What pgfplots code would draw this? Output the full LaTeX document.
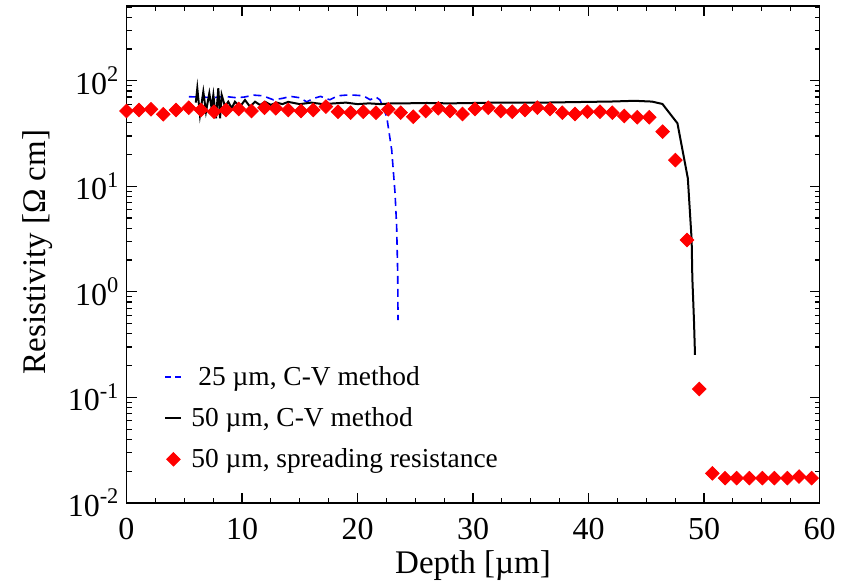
\documentclass[border=0pt]{standalone}
\usepackage{fontspec}
\setmainfont{Liberation Serif}
\usepackage{pgfplots}
\pgfplotsset{compat=1.18}
\pgfplotsset{shortline/.style={legend image code/.code={\draw[##1] (0pt,0pt) -- (8pt,0pt);}},
  shortdash/.style={legend image code/.code={\draw[##1, dash pattern=on 3pt off 2pt] (0pt,0pt) -- (8pt,0pt);}},
  shortmark/.style={legend image code/.code={\draw[##1] plot coordinates {(4pt,0pt)};}}}
\begin{document}
\begin{tikzpicture}
\begin{axis}[
  scale only axis, width=346.5pt, height=248.5pt,
  ymode=log, xmin=0, xmax=60, ymin=0.01, ymax=510,
  xtick={0,10,20,30,40,50,60}, xticklabels={0,10,20,30,40,50,60},
  minor x tick num=3,
  ytick={0.01,0.1,1,10,100},
  yticklabels={10\textsuperscript{-2},10\textsuperscript{-1},10\textsuperscript{0},10\textsuperscript{1},10\textsuperscript{2}},
  minor ytick={0.02,0.03,0.04,0.05,0.06,0.07,0.08,0.09,0.2,0.3,0.4,0.5,0.6,0.7,0.8,0.9,2,3,4,5,6,7,8,9,20,30,40,50,60,70,80,90,200,300,400,500},
  xtick pos=both, ytick pos=both, tick align=inside,
  major tick length=5pt, minor tick length=2.5pt,
  every tick/.style={black, line width=0.6pt},
  axis line style={line width=0.8pt},
  tick label style={font=\fontsize{16}{18}\selectfont},
  xticklabel style={yshift=-4pt},
  xlabel={Depth [µm]}, ylabel={Resistivity [Ω cm]},
  label style={font=\fontsize{16.5}{19}\selectfont},
  xlabel style={at={(axis description cs:0.5,-0.126)}, anchor=center},
  ylabel style={at={(axis description cs:-0.128,0.505)}, anchor=center},
  legend style={draw=none, fill=none, at={(0.0455,0.292)}, anchor=north west,
    font=\fontsize{13.7}{16}\selectfont, row sep=5.5pt},
  legend cell align=left,
]
\addplot[blue, line width=0.8pt, dash pattern=on 4pt off 2.5pt, shortdash] coordinates {
(5.4,70.5) (6.5,70) (7.5,69) (8.5,71) (9.5,69) (10.2,70) (11.0,73) (11.8,72)
(12.7,66) (13.5,68) (14.2,71) (15.0,69) (15.6,63) (16.2,68) (16.8,71) (17.6,66)
(18.3,72) (19.0,73) (19.7,73) (20.5,72) (21.1,66) (21.6,70) (21.95,65.7)
(22.53,45.6) (22.96,22.1) (23.25,8.6) (23.39,4.14) (23.48,1.5) (23.51,0.54)
};
\addlegendentry{\hspace{6pt}25 µm, C-V method}
\addplot[black, line width=1pt, shortline] coordinates {
(6.0,62) (6.13,84.7) (6.36,47.3) (6.65,78.7) (6.88,50.8) (7.17,76) (7.37,54.8)
(7.52,73.3) (7.75,44.1) (7.95,84.7) (8.1,44.1) (8.24,73.3) (8.53,56.8) (8.81,63.2)
(9.11,54.8) (9.39,63.2) (9.83,56.8) (10.26,65.6) (10.69,56.8) (11.13,63.2)
(11.56,58.9) (12.0,63) (12.5,59) (13.0,62) (13.5,60) (14.0,63) (15,60) (16,62)
(17,60) (18,61) (19,62) (20,60) (21,61) (22,60) (23,61) (24,61) (26,61.5)
(28,61) (30,61.5) (32,62) (34,62) (36,62) (38,62.5) (40,63) (42,63.5) (44,64.5)
(45.5,63.4) (46.4,60.2) (47.7,39.5) (48.6,11.9) (48.93,3.1) (48.99,1.35)
(49.13,0.54) (49.22,0.253)
};
\addlegendentry{\hspace{2.5pt}50 µm, C-V method}
\addplot[only marks, mark=square*, mark size=2.4pt, color=red, shortmark,
  mark options={rotate=45, fill=red, draw=red}] coordinates {
(0,51.6) (1.08,52.8) (2.12,53.6) (3.19,48.1) (4.29,52.8) (5.39,55.5) (6.45,52.8)
(7.58,50.8) (8.61,52.8) (9.72,54.0) (10.82,51.6) (11.95,55.5) (12.92,54.8)
(14.01,52.8) (15.11,51.6) (16.17,52.8) (17.27,56.8) (18.31,50.8) (19.41,49.8)
(20.50,50.8) (21.60,49.8) (22.67,53.6) (23.74,49.8) (24.83,45.6) (25.90,51.6)
(27.00,54.8) (28.01,51.6) (29.09,48.4) (30.17,54.0) (31.32,55.5) (32.40,51.6)
(33.40,50.8) (34.50,52.8) (35.57,55.5) (36.67,54.0) (37.73,49.8) (38.83,48.4)
(39.90,50.8) (40.99,50.8) (42.06,49.8) (43.10,46.3) (44.22,45.0) (45.26,45.0)
(46.42,32.9) (47.52,17.7) (48.53,3.1) (49.59,0.12) (50.72,0.0191) (51.82,0.0172)
(52.83,0.0172) (53.92,0.0172) (55.05,0.0172) (56.09,0.0172) (57.21,0.0172)
(58.23,0.0178) (59.32,0.0172)
};
\addlegendentry{\hspace{2.5pt}50 µm, spreading resistance}
\end{axis}
\pgfresetboundingbox
\path[use as bounding box] (-63.25pt,-42.35pt) rectangle (361.25pt,251.5pt);
\end{tikzpicture}
\end{document}
